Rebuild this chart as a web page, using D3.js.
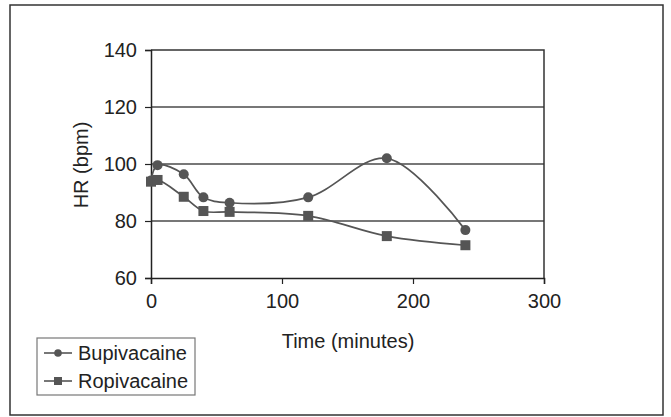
<!DOCTYPE html>
<html>
<head>
<meta charset="utf-8">
<script src="https://cdn.jsdelivr.net/npm/d3@7"></script>
<style>
  html, body { margin: 0; padding: 0; background: #fff; }
  svg { display: block; font-family: "Liberation Sans", Arial, sans-serif; }
</style>
</head>
<body>
<svg id="chart" width="671" height="417"></svg>
<script>
const times = [0, 5, 25, 40, 60, 120, 180, 240];
const bupivacaine = [94.2, 99.6, 96.4, 88.3, 86.4, 88.3, 102.0, 76.8];
const ropivacaine = [93.8, 94.4, 88.5, 83.5, 83.2, 81.8, 74.7, 71.5];
const seriesNames = ["Bupivacaine", "Ropivacaine"];
const xTicks = [0, 100, 200, 300];
const yTicks = [60, 80, 100, 120, 140];
const xTitle = "Time (minutes)";
const yTitle = "HR (bpm)";

const svg = d3.select("#chart");
const pL = 151, pR = 544, pT = 50, pB = 278;
const fs = 20;
const x = d3.scaleLinear().domain([0, 300]).range([pL, pR]);
const y = d3.scaleLinear().domain([60, 140]).range([pB, pT]);

// outer frame
svg.append("rect").attr("x", 10).attr("y", 5).attr("width", 653).attr("height", 410)
  .attr("fill", "none").attr("stroke", "#333").attr("stroke-width", 1.5);

// gridlines
svg.append("g").selectAll("line").data(yTicks.filter(d => d > 60 && d < 140)).join("line")
  .attr("x1", pL).attr("x2", pR).attr("y1", d => y(d)).attr("y2", d => y(d))
  .attr("stroke", "#4a4a4a").attr("stroke-width", 1.3);

// plot border top/right
svg.append("path")
  .attr("d", `M${pL},${y(140)}H${pR}V${pB}`)
  .attr("fill", "none").attr("stroke", "#333").attr("stroke-width", 1.5);

// axes
const yAxis = svg.append("g").attr("transform", `translate(${pL},0)`)
  .call(d3.axisLeft(y).tickValues(yTicks).tickSize(6).tickPadding(9));
const xAxis = svg.append("g").attr("transform", `translate(0,${pB})`)
  .call(d3.axisBottom(x).tickValues(xTicks).tickSize(6).tickPadding(10));
[xAxis, yAxis].forEach(g => {
  g.select(".domain").attr("stroke", "#222").attr("stroke-width", 1.5);
  g.selectAll(".tick line").attr("stroke", "#222").attr("stroke-width", 1.2);
  g.selectAll("text").attr("font-size", fs).attr("fill", "#222")
    .attr("font-family", "'Liberation Sans', Arial, sans-serif");
});
yAxis.selectAll(".tick text").attr("dx", "1");

// titles
svg.append("text").attr("x", 348).attr("y", 348).attr("text-anchor", "middle")
  .attr("font-size", fs).attr("fill", "#222").text(xTitle);
svg.append("text").attr("transform", "translate(88,165) rotate(-90)")
  .attr("text-anchor", "middle").attr("font-size", fs).attr("fill", "#222").text(yTitle);

const line = d3.line().x(d => x(d[0])).y(d => y(d[1])).curve(d3.curveCatmullRom.alpha(0.5));
const col = "#555";
const dataB = times.map((t, i) => [t, bupivacaine[i]]);
const dataR = times.map((t, i) => [t, ropivacaine[i]]);

svg.append("path").attr("d", line(dataB)).attr("fill", "none").attr("stroke", col).attr("stroke-width", 1.7);
svg.append("path").attr("d", line(dataR)).attr("fill", "none").attr("stroke", col).attr("stroke-width", 1.7);

svg.append("g").selectAll("circle").data(dataB).join("circle")
  .attr("cx", d => x(d[0])).attr("cy", d => y(d[1])).attr("r", 5).attr("fill", col);
svg.append("g").selectAll("rect").data(dataR).join("rect")
  .attr("x", d => x(d[0]) - 5).attr("y", d => y(d[1]) - 5)
  .attr("width", 10).attr("height", 10).attr("fill", col);

// legend
const lg = svg.append("g");
lg.append("rect").attr("x", 37).attr("y", 338).attr("width", 158).attr("height", 57)
  .attr("fill", "#fff").attr("stroke", "#777").attr("stroke-width", 1.2);
seriesNames.forEach((name, i) => {
  const cy = 353 + i * 28;
  lg.append("line").attr("x1", 44).attr("x2", 72).attr("y1", cy).attr("y2", cy)
    .attr("stroke", col).attr("stroke-width", 1.6);
  if (i === 0) lg.append("circle").attr("cx", 58).attr("cy", cy).attr("r", 3.8).attr("fill", col);
  else lg.append("rect").attr("x", 54).attr("y", cy - 4).attr("width", 8).attr("height", 8).attr("fill", col);
  lg.append("text").attr("x", 78).attr("y", cy + 7).attr("font-size", fs).attr("fill", "#222").text(name);
});
</script>
</body>
</html>
